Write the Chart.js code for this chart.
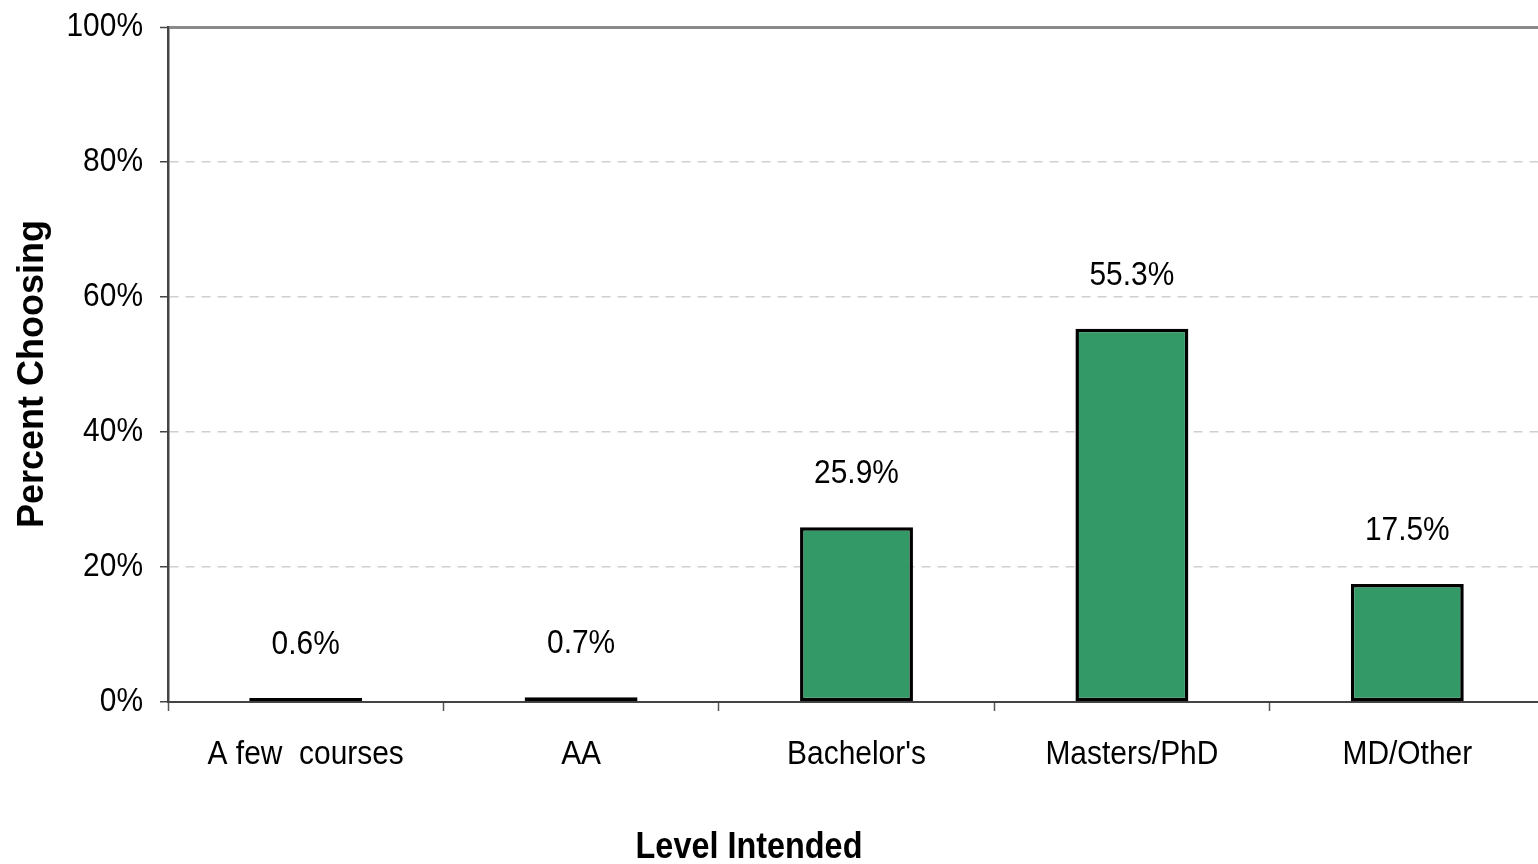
<!DOCTYPE html>
<html>
<head>
<meta charset="utf-8">
<style>
  html, body { margin: 0; padding: 0; background: #fff; overflow: hidden; }
  #wrap { width: 1548px; height: 864px; }
</style>
<script src="https://cdn.jsdelivr.net/npm/chart.js@4/dist/chart.umd.min.js"></script>
</head>
<body>
<div id="wrap"><canvas id="c" width="1548" height="864"></canvas></div>
<script>
// Survey results: highest level of education intended
const categories = ["A few  courses", "AA", "Bachelor's", "Masters/PhD", "MD/Other"];
const percentChoosing = [0.6, 0.7, 25.9, 55.3, 17.5];
const yTicks = [0, 20, 40, 60, 80, 100];
const xTitle = "Level Intended";
const yTitle = "Percent Choosing";

const FONT = "'Liberation Sans', Arial, sans-serif";

// Narrow-face look: draw text horizontally condensed by ctx.textScale
const condensedText = {
  id: 'condensedText',
  beforeDraw(chart) {
    const ctx = chart.ctx;
    if (!ctx._condensed) {
      const orig = ctx.fillText;
      ctx.fillText = function (t, x, y, mw) {
        const f = this.textScale || 1;
        if (f === 1) {
          return mw === undefined ? orig.call(this, t, x, y) : orig.call(this, t, x, y, mw);
        }
        const w = this.measureText(t).width * f;
        orig.call(this, t, x, y, mw === undefined ? w : Math.min(mw, w));
      };
      ctx._condensed = true;
    }
    ctx.textScale = 0.88;
  }
};

// Value labels above bars plus the two axis titles
const annotate = {
  id: 'annotate',
  afterDatasetsDraw(chart) {
    const ctx = chart.ctx;
    const meta = chart.getDatasetMeta(0);
    ctx.save();
    ctx.fillStyle = '#000';
    ctx.textAlign = 'center';
    ctx.textBaseline = 'alphabetic';
    ctx.textScale = 0.88;
    ctx.font = '34px ' + FONT;
    meta.data.forEach((bar, i) => {
      ctx.fillText(percentChoosing[i].toFixed(1) + '%', bar.x, bar.y - 44);
    });
    ctx.textScale = 0.9;
    ctx.font = 'bold 36px ' + FONT;
    ctx.fillText(xTitle, 749, 858);
    ctx.textScale = 1;
    ctx.translate(43, 374);
    ctx.rotate(-Math.PI / 2);
    ctx.font = 'bold 36px ' + FONT;
    ctx.fillText(yTitle, 0, 0);
    ctx.restore();
    ctx.textScale = 0.88;
  }
};

new Chart(document.getElementById('c'), {
  type: 'bar',
  data: {
    labels: categories,
    datasets: [{
      data: percentChoosing,
      backgroundColor: '#339966',
      borderColor: '#000',
      borderWidth: 3.5,
      borderSkipped: false,
      barPercentage: 0.41,
      categoryPercentage: 1.0
    }]
  },
  options: {
    responsive: false,
    animation: false,
    devicePixelRatio: 1,
    layout: { padding: { left: 0, top: 27, right: 3, bottom: 0 } },
    plugins: { legend: { display: false }, tooltip: { enabled: false } },
    scales: {
      x: {
        afterFit(scale) { scale.height = 162; },
        grid: {
          display: true, drawOnChartArea: false, drawTicks: true, offset: true,
          tickLength: 9, tickColor: '#555', tickWidth: 1.5
        },
        border: { display: true, color: '#444', width: 2 },
        ticks: { color: '#000', font: { family: FONT, size: 34 }, padding: 23, maxRotation: 0, autoSkip: false }
      },
      y: {
        min: 0, max: 100,
        afterFit(scale) {
          scale.width = 168;
          scale.paddingTop = 0;
          scale.paddingBottom = 0;
        },
        afterBuildTicks(scale) { scale.ticks = yTicks.map(v => ({ value: v })); },
        grid: {
          color: c => c.tick && c.tick.value === 100 ? '#8a8a8a' : '#d0d0d0',
          lineWidth: c => c.tick && c.tick.value === 100 ? 3 : 1.5,
          tickColor: '#444', tickLength: 8, tickWidth: 1.5
        },
        border: {
          display: true, color: '#444', width: 2.5,
          dash: c => c.tick && c.tick.value === 100 ? [] : [9, 7]
        },
        ticks: {
          color: '#000', font: { family: FONT, size: 34 }, padding: 17,
          callback: v => v + '%'
        }
      }
    }
  },
  plugins: [condensedText, annotate]
});
</script>
</body>
</html>
